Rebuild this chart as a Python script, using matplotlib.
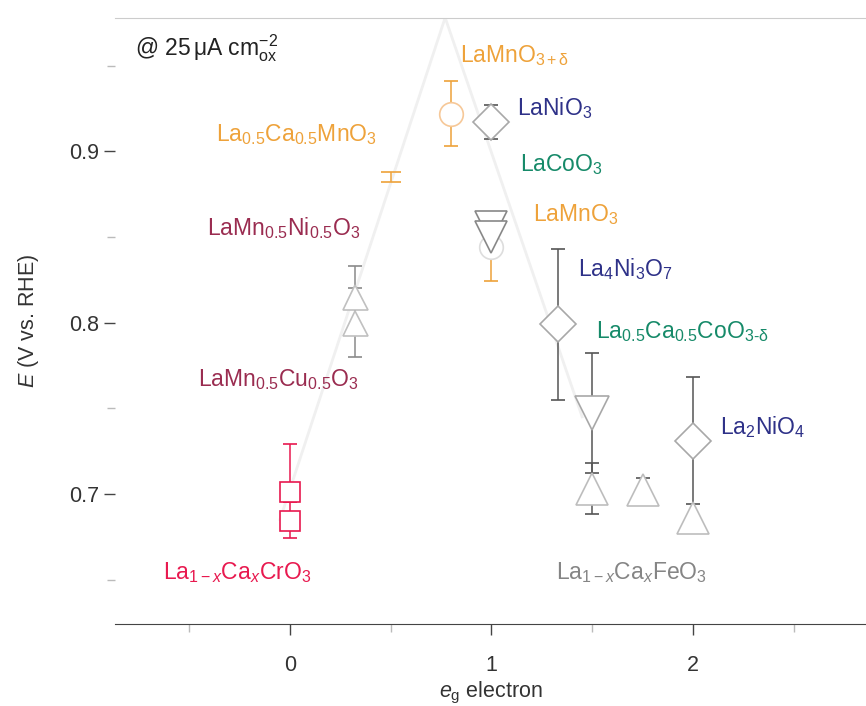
import matplotlib
matplotlib.use("Agg")
import matplotlib.pyplot as plt

plt.rcParams['font.family'] = ['Liberation Sans', 'DejaVu Sans']
plt.rcParams['mathtext.fontset'] = 'custom'
plt.rcParams['mathtext.rm'] = 'Liberation Sans'
plt.rcParams['mathtext.it'] = 'Liberation Sans:italic'
plt.rcParams['mathtext.bf'] = 'Liberation Sans:bold'

# faint volcano guide line (eg, E)
volcano_x = [-0.05, 0.77, 1.45]
volcano_y = [0.685, 0.978, 0.745]

# series: eg, E, lower error, upper error
cr_x = [0.0, 0.0]
cr_y = [0.701, 0.684]
cr_lo = [0.006, 0.010]
cr_hi = [0.028, 0.011]

mnni_x = [0.32, 0.32]
mnni_y = [0.815, 0.800]
mnni_lo = [0.018, 0.020]
mnni_hi = [0.018, 0.020]

lcmo_x = [0.5]
lcmo_y = [0.885]
lcmo_err = [0.003]

lmo_d_x = [0.80]
lmo_d_y = [0.922]
lmo_d_err = [0.019]

lno_x = [1.0]
lno_y = [0.917]
lno_err = [0.010]

lco_x = [1.0, 1.0]
lco_y = [0.856, 0.850]
lco_err = [0.008, 0.004]

lmo_x = [1.0]
lmo_y = [0.844]
lmo_err = [0.020]

l4n3_x = [1.33]
l4n3_y = [0.799]
l4n3_err = [0.044]

lcco_x = [1.5]
lcco_y = [0.747]
lcco_err = [0.035]

l2n_x = [2.0]
l2n_y = [0.731]
l2n_err = [0.037]

fe_x = [1.5, 1.75, 2.0]
fe_y = [0.703, 0.702, 0.686]
fe_err = [0.015, 0.007, 0.0]

ORANGE = '#eea23a'
BLUE = '#2e3188'
TEAL = '#168a69'
MAROON = '#9a2c50'
CRIMSON = '#e8194f'
GRAY = '#858585'
MGRAY = '#a8a8a8'
EGRAY = '#555555'

fig = plt.figure(figsize=(8.66, 7.06), dpi=100)
ax = fig.add_axes([0.133, 0.116, 0.867, 0.859])

ax.plot(volcano_x, volcano_y, color='#f0f0f0', lw=2, zorder=0)


def series(x, y, err, marker, ms, mec, ecolor, capsize=5):
    ax.errorbar(x, y, yerr=err, fmt=marker, ms=ms, mfc='white', mec=mec,
                mew=1.2, ecolor=ecolor, elinewidth=1.1, capsize=capsize,
                capthick=1.1, zorder=3)


series(cr_x, cr_y, [cr_lo, cr_hi], 's', 14, CRIMSON, CRIMSON)
series(mnni_x, mnni_y, [mnni_lo, mnni_hi], '^', 18, '#c0c0c0', '#8a8a8a')
series(lcmo_x, lcmo_y, lcmo_err, 'none', 1, ORANGE, ORANGE, capsize=7)
series(lmo_d_x, lmo_d_y, lmo_d_err, 'o', 17, '#f6c898', ORANGE)
series(lno_x, lno_y, lno_err, 'D', 18, MGRAY, EGRAY)
series(lmo_x, lmo_y, lmo_err, 'o', 17, '#dddddd', ORANGE)
series(lco_x, lco_y, lco_err, 'v', 23, '#888888', EGRAY)
series(l4n3_x, l4n3_y, l4n3_err, 'D', 18, MGRAY, EGRAY)
series(lcco_x, lcco_y, lcco_err, 'v', 24, MGRAY, EGRAY)
series(l2n_x, l2n_y, l2n_err, 'D', 18, MGRAY, EGRAY)
series(fe_x, fe_y, fe_err, '^', 23, '#bdbdbd', EGRAY)

fs = 16.5
labels = [
    (-0.77, 0.960, r'@ 25$\,\mathrm{\mu}$A cm$^{-2}_{\mathrm{ox}}$', '#222222'),
    (0.845, 0.956, r'$\mathrm{LaMnO_{3+\delta}}$', ORANGE),
    (-0.37, 0.910, r'$\mathrm{La_{0.5}Ca_{0.5}MnO_3}$', ORANGE),
    (1.127, 0.925, r'$\mathrm{LaNiO_3}$', BLUE),
    (1.14, 0.892, r'$\mathrm{LaCoO_3}$', TEAL),
    (1.206, 0.863, r'$\mathrm{LaMnO_3}$', ORANGE),
    (-0.41, 0.855, r'$\mathrm{LaMn_{0.5}Ni_{0.5}O_3}$', MAROON),
    (1.43, 0.831, r'$\mathrm{La_4Ni_3O_7}$', BLUE),
    (1.52, 0.795, r'$\mathrm{La_{0.5}Ca_{0.5}CoO_{3\text{-}\delta}}$', TEAL),
    (-0.457, 0.767, r'$\mathrm{LaMn_{0.5}Cu_{0.5}O_3}$', MAROON),
    (2.134, 0.739, r'$\mathrm{La_2NiO_4}$', BLUE),
    (-0.63, 0.654, r'$\mathrm{La_{1-\mathit{x}}Ca_{\mathit{x}}CrO_3}$', CRIMSON),
    (1.32, 0.654, r'$\mathrm{La_{1-\mathit{x}}Ca_{\mathit{x}}FeO_3}$', GRAY),
]
for x, y, s, c in labels:
    ax.text(x, y, s, color=c, fontsize=fs, ha='left', va='center')

ax.set_xlim(-0.868, 2.859)
ax.set_ylim(0.624, 0.978)
ax.set_xticks([0, 1, 2])
ax.set_xticks([-0.5, 0.5, 1.5, 2.5], minor=True)
ax.set_yticks([0.7, 0.8, 0.9])
ax.set_yticks([0.65, 0.75, 0.85, 0.95], minor=True)
ax.tick_params(which='both', direction='out', colors='#444444',
               labelsize=15.5, labelcolor='#333333')
ax.tick_params(which='major', length=8, width=1)
ax.tick_params(which='minor', length=6, width=1, colors='#bbbbbb')
ax.tick_params(axis='x', which='major', pad=14)

ax.spines['left'].set_visible(False)
ax.spines['right'].set_visible(False)
ax.spines['top'].set_color('#cccccc')
ax.spines['bottom'].set_color('#444444')

ax.set_ylabel(r'$E$ (V vs. RHE)', fontsize=15.5, color='#333333', labelpad=20)
ax.set_xlabel(r'$e_\mathrm{g}$ electron', fontsize=15.5, color='#333333', labelpad=3)

fig.savefig('out.png', dpi=100)
